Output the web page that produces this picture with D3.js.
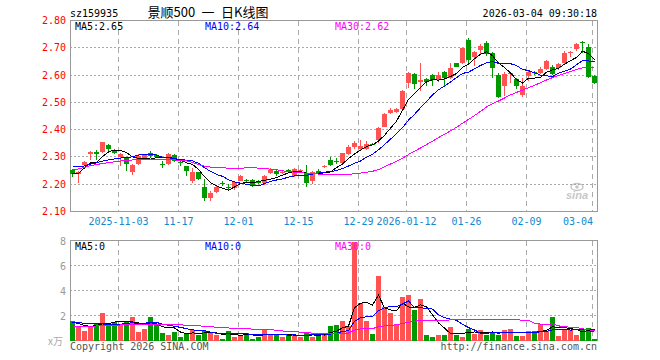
<!DOCTYPE html>
<html>
<head>
<meta charset="utf-8">
<script src="https://cdn.jsdelivr.net/npm/d3@7"></script>
<style>
  body { margin: 0; background: #fff; }
  text { font-family: "DejaVu Sans Mono", "Liberation Mono", monospace; font-size: 10px; }
</style>
</head>
<body>
<svg id="chart" width="660" height="360"></svg>
<script>
// daily candles, 2025-10-22 .. 2026-03-04 (88 sessions)
const opens = [2.252, 2.237, 2.271, 2.311, 2.318, 2.319, 2.344, 2.326, 2.301, 2.295,
  2.246, 2.273, 2.293, 2.313, 2.307, 2.275, 2.273, 2.307, 2.28, 2.265,
  2.21, 2.243, 2.191, 2.149, 2.173, 2.206, 2.19, 2.185, 2.213, 2.216,
  2.216, 2.21, 2.206, 2.24, 2.25, 2.24, 2.252, 2.23, 2.25, 2.24,
  2.21, 2.25, 2.263, 2.288, 2.285, 2.277, 2.311, 2.335, 2.328, 2.328,
  2.347, 2.362, 2.411, 2.462, 2.466, 2.475, 2.572, 2.604, 2.576, 2.585,
  2.6, 2.582, 2.612, 2.588, 2.643, 2.643, 2.728, 2.667, 2.692, 2.716,
  2.68, 2.6, 2.56, 2.605, 2.585, 2.527, 2.597, 2.612, 2.607, 2.622,
  2.631, 2.627, 2.643, 2.68, 2.695, 2.722, 2.704, 2.597]
const highs = [2.256, 2.25, 2.284, 2.323, 2.326, 2.356, 2.347, 2.33, 2.315, 2.3,
  2.275, 2.31, 2.309, 2.32, 2.31, 2.285, 2.315, 2.31, 2.285, 2.268,
  2.26, 2.246, 2.218, 2.176, 2.195, 2.21, 2.2, 2.21, 2.232, 2.22,
  2.22, 2.214, 2.232, 2.26, 2.255, 2.247, 2.255, 2.26, 2.256, 2.27,
  2.25, 2.255, 2.27, 2.3, 2.295, 2.315, 2.345, 2.36, 2.362, 2.36,
  2.35, 2.41, 2.462, 2.478, 2.48, 2.545, 2.612, 2.608, 2.643, 2.59,
  2.603, 2.61, 2.615, 2.645, 2.645, 2.7, 2.735, 2.69, 2.715, 2.725,
  2.685, 2.607, 2.61, 2.61, 2.59, 2.59, 2.615, 2.614, 2.63, 2.655,
  2.638, 2.645, 2.69, 2.69, 2.716, 2.725, 2.714, 2.6]
const lows = [2.228, 2.206, 2.265, 2.289, 2.29, 2.315, 2.32, 2.31, 2.268, 2.247,
  2.233, 2.27, 2.29, 2.295, 2.296, 2.26, 2.27, 2.28, 2.265, 2.23,
  2.206, 2.215, 2.137, 2.137, 2.168, 2.195, 2.175, 2.18, 2.21, 2.208,
  2.19, 2.2, 2.196, 2.238, 2.23, 2.236, 2.24, 2.225, 2.246, 2.19,
  2.2, 2.235, 2.26, 2.268, 2.275, 2.275, 2.308, 2.33, 2.325, 2.325,
  2.342, 2.352, 2.408, 2.458, 2.462, 2.472, 2.552, 2.55, 2.54, 2.56,
  2.56, 2.575, 2.558, 2.585, 2.628, 2.64, 2.645, 2.635, 2.675, 2.67,
  2.59, 2.517, 2.522, 2.57, 2.55, 2.52, 2.58, 2.6, 2.605, 2.62,
  2.6, 2.62, 2.64, 2.665, 2.69, 2.68, 2.59, 2.567]
const closes = [2.237, 2.246, 2.281, 2.319, 2.309, 2.354, 2.329, 2.315, 2.311, 2.273,
  2.271, 2.305, 2.307, 2.305, 2.3, 2.272, 2.31, 2.285, 2.276, 2.249,
  2.243, 2.22, 2.148, 2.166, 2.191, 2.2, 2.185, 2.207, 2.23, 2.21,
  2.198, 2.204, 2.23, 2.252, 2.238, 2.243, 2.245, 2.255, 2.253, 2.204,
  2.246, 2.24, 2.266, 2.27, 2.282, 2.313, 2.338, 2.352, 2.34, 2.348,
  2.345, 2.405, 2.458, 2.472, 2.476, 2.542, 2.609, 2.567, 2.582, 2.576,
  2.582, 2.6, 2.588, 2.627, 2.631, 2.698, 2.656, 2.686, 2.708, 2.678,
  2.627, 2.521, 2.605, 2.607, 2.56, 2.56, 2.611, 2.606, 2.623, 2.652,
  2.603, 2.642, 2.68, 2.685, 2.714, 2.717, 2.594, 2.572]
// volume, 万
const volumes = [1.6, 1.18, 0.8, 1.12, 1.34, 2.24, 1.18, 1.5, 1.26, 1.6,
  1.92, 0.72, 0.91, 1.92, 1.26, 0.64, 0.46, 0.72, 0.32, 0.64,
  0.86, 0.43, 0.75, 0.59, 0.46, 0.16, 0.75, 0.32, 0.46, 0.59,
  0.16, 0.27, 0.85, 0.46, 0.46, 0.24, 0.53, 0.4, 0.32, 0.64,
  0.32, 0.46, 0.53, 1.18, 1.26, 1.6, 1.18, 7.85, 3.04, 1.6,
  0.54, 5.18, 2.67, 2.24, 1.34, 3.52, 3.66, 2.46, 3.34, 0.46,
  0.32, 0.46, 0.4, 1.12, 0.46, 0.32, 0.96, 0.54, 0.86, 0.46,
  0.59, 0.46, 0.86, 0.94, 0.38, 0.38, 0.78, 0.78, 1.31, 0.78,
  1.87, 0.38, 0.86, 0.86, 0.46, 0.86, 0.99, 0.14]

// MA values at the left edge (history before the window)
const ma5Head = [2.241, 2.24, 2.26, 2.278]
const ma10Head = [2.267, 2.264, 2.267, 2.274, 2.278, 2.285, 2.289, 2.293, 2.296]
const ma30Head = [2.252, 2.256, 2.262, 2.268, 2.272, 2.276, 2.279, 2.282, 2.285, 2.287,
  2.289, 2.289, 2.289, 2.29, 2.29, 2.289, 2.289, 2.289, 2.288, 2.286,
  2.28, 2.272, 2.266, 2.263, 2.262, 2.26, 2.259, 2.258, 2.256]
const vma5Head = [1.5, 1.35, 1.2, 1.12]
const vma10Head = [1.47, 1.42, 1.38, 1.35, 1.33, 1.32, 1.31, 1.3, 1.3]
const vma30Head = [1.1, 1.1, 1.12, 1.14, 1.16, 1.18, 1.2, 1.22, 1.24, 1.26,
  1.28, 1.3, 1.31, 1.31, 1.3, 1.3, 1.29, 1.28, 1.25, 1.22,
  1.2, 1.17, 1.14, 1.1, 1.06, 1.03, 1.0, 0.98, 0.97]

const dateTicks = [8, 18, 28, 38, 48, 56, 66, 76, 87]
const dateLabels = ["2025-11-03", "11-17", "12-01", "12-15", "12-29", "2026-01-12", "01-26", "02-09", "03-04"]
const priceTicks = [2.1, 2.2, 2.3, 2.4, 2.5, 2.6, 2.7, 2.8]
const volTicks = [2, 4, 6, 8]
const maLabels = ["MA5:2.65", "MA10:2.64", "MA30:2.62"]
const volMaLabels = ["MA5:0", "MA10:0", "MA30:0"]

const RED = "#ff5252"
const GREEN = "#009a00"
const maColors = ["#000000", "#0000ff", "#ff00ff"]
const GRID = "#aaaaaa"

const svg = d3.select("#chart")
svg.append("rect").attr("width", 660).attr("height", 360).attr("fill", "#fff")

const x = d3.scaleLinear().domain([0, 88]).range([70, 598])
const yP = d3.scaleLinear().domain([2.1, 2.8]).range([211.5, 20.5])
const yV = d3.scaleLinear().domain([0, 8]).range([340.5, 240.5])
const cx = (i) => x(i) + 2.5
const snap = (v) => Math.round(v - 0.5) + 0.5

const movingAvg = (vals, n, head) =>
  vals.map((v, i) => (i < n - 1 ? head[i] : d3.mean(vals.slice(i - n + 1, i + 1))))

const idx = d3.range(closes.length)
const isUp = (i) => closes[i] >= opens[i]

// header
svg.append("text").attr("x", 70).attr("y", 17).attr("font-size", 11).text("sz159935")
svg.append("text").attr("x", 208).attr("y", 17).attr("text-anchor", "middle")
  .style("font-family", '"Noto Sans CJK SC", sans-serif').style("font-size", "13px")
  .text("景顺500\u2002一\u2002日K线图")
svg.append("text").attr("x", 597).attr("y", 17).attr("text-anchor", "end").attr("font-size", 11)
  .text("2026-03-04 09:30:18")

// ---------- panel frames and grid ----------
function panel(yScale, ticks, top, bottom) {
  const g = svg.append("g").attr("shape-rendering", "crispEdges")
  g.selectAll("line.h").data(ticks.slice(1, -1)).enter().append("line")
    .attr("x1", 70).attr("x2", 597)
    .attr("y1", (d) => snap(yScale(d))).attr("y2", (d) => snap(yScale(d)))
    .attr("stroke", GRID).attr("stroke-dasharray", "2,2")
  g.selectAll("line.v").data(dateTicks).enter().append("line")
    .attr("x1", (d) => x(d) + 0.5).attr("x2", (d) => x(d) + 0.5)
    .attr("y1", top).attr("y2", bottom)
    .attr("stroke", GRID).attr("stroke-dasharray", "5,4")
  g.append("rect").attr("x", 70.5).attr("y", top).attr("width", 527).attr("height", bottom - top)
    .attr("fill", "none").attr("stroke", "#999")
}
panel(yP, priceTicks, 20.5, 211.5)
panel(yV, [0, 2, 4, 6, 8], 240.5, 340.5)

// price axis labels
svg.selectAll("text.py").data(priceTicks).enter().append("text")
  .attr("x", 66).attr("y", (d) => yP(d) + 3.5).attr("text-anchor", "end")
  .attr("fill", "#ff0000").text((d) => d.toFixed(2))

// volume axis labels
svg.selectAll("text.vy").data(volTicks).enter().append("text")
  .attr("x", 66).attr("y", (d) => yV(d) + 4).attr("text-anchor", "end")
  .attr("fill", "#999").attr("font-size", 11).text((d) => d)
svg.append("text").attr("x", 48).attr("y", 345).attr("fill", "#aaa")
  .style("font-family", '"Noto Sans CJK SC", serif').style("font-size", "10px").text("x万")

// date labels
svg.selectAll("text.dx").data(dateTicks).enter().append("text")
  .attr("x", (d, i) => (i === dateTicks.length - 1 ? 593 : x(d) + 0.5))
  .attr("y", 225)
  .attr("text-anchor", (d, i) => (i === dateTicks.length - 1 ? "end" : "middle"))
  .attr("fill", "#1488d0").text((d, i) => dateLabels[i])

// sina watermark
const logo = svg.append("g").attr("opacity", 0.55)
logo.append("ellipse").attr("cx", 577).attr("cy", 187).attr("rx", 6).attr("ry", 3.5)
  .attr("fill", "none").attr("stroke", "#999").attr("stroke-width", 1.5)
logo.append("circle").attr("cx", 577).attr("cy", 187).attr("r", 1.8).attr("fill", "#999")
logo.append("text").attr("x", 566).attr("y", 199).attr("fill", "#999")
  .style("font-family", "Liberation Sans, sans-serif").style("font-size", "11px")
  .style("font-style", "italic").style("font-weight", "bold").text("sina")

// ---------- candles ----------
const candles = svg.append("g").attr("shape-rendering", "crispEdges")
candles.selectAll("line").data(idx).enter().append("line")
  .attr("x1", (i) => cx(i)).attr("x2", (i) => cx(i))
  .attr("y1", (i) => yP(highs[i])).attr("y2", (i) => yP(lows[i]))
  .attr("stroke", (i) => (isUp(i) ? RED : GREEN))
candles.selectAll("rect").data(idx).enter().append("rect")
  .attr("x", (i) => x(i)).attr("width", 5)
  .attr("y", (i) => yP(Math.max(opens[i], closes[i])))
  .attr("height", (i) => Math.max(1, Math.abs(yP(opens[i]) - yP(closes[i]))))
  .attr("fill", (i) => (isUp(i) ? RED : GREEN))

// ---------- volume bars ----------
svg.append("g").attr("shape-rendering", "crispEdges")
  .selectAll("rect").data(idx).enter().append("rect")
  .attr("x", (i) => x(i)).attr("width", 5)
  .attr("y", (i) => Math.round(yV(volumes[i])))
  .attr("height", (i) => 341 - Math.round(yV(volumes[i])))
  .attr("fill", (i) => (isUp(i) ? RED : GREEN))

// ---------- moving averages ----------
const priceMAs = [movingAvg(closes, 5, ma5Head), movingAvg(closes, 10, ma10Head), movingAvg(closes, 30, ma30Head)]
const volMAs = [movingAvg(volumes, 5, vma5Head), movingAvg(volumes, 10, vma10Head), movingAvg(volumes, 30, vma30Head)]

const lineP = d3.line().x((d, i) => cx(i)).y((d) => yP(d))
const lineV = d3.line().x((d, i) => cx(i)).y((d) => yV(d))
priceMAs.forEach((s, k) => {
  svg.append("path").datum(s).attr("d", lineP).attr("fill", "none")
    .attr("stroke", maColors[k]).attr("stroke-width", 1).attr("shape-rendering", "crispEdges")
})
volMAs.forEach((s, k) => {
  svg.append("path").datum(s).attr("d", lineV).attr("fill", "none")
    .attr("stroke", maColors[k]).attr("stroke-width", 1).attr("shape-rendering", "crispEdges")
})

// MA legends
const legX = [75, 205, 335]
maLabels.forEach((t, k) => {
  svg.append("text").attr("x", legX[k]).attr("y", 30).attr("fill", maColors[k]).text(t)
})
volMaLabels.forEach((t, k) => {
  svg.append("text").attr("x", legX[k]).attr("y", 250).attr("fill", maColors[k]).text(t)
})

// footer
svg.append("text").attr("x", 70).attr("y", 350).attr("fill", "#555").text("Copyright 2026 SINA.COM")
svg.append("text").attr("x", 597).attr("y", 350).attr("text-anchor", "end").attr("fill", "#555")
  .text("http://finance.sina.com.cn")
</script>
</body>
</html>
